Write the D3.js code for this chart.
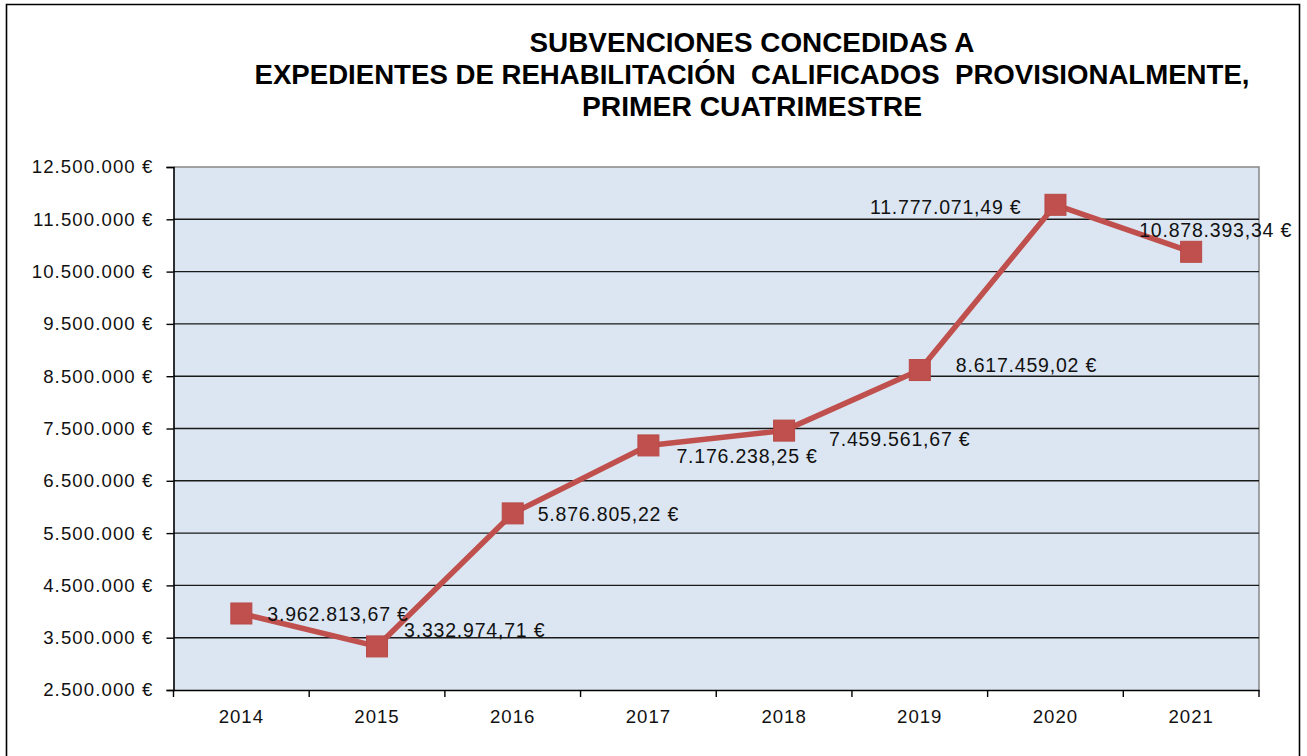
<!DOCTYPE html>
<html><head><meta charset="utf-8">
<script src="https://cdn.jsdelivr.net/npm/d3@7"></script>
<style>
html,body{margin:0;padding:0;background:#fff;}
svg{display:block;font-family:"Liberation Sans",Arial,sans-serif;}
</style></head>
<body><svg id="c" width="1307" height="756"></svg>
<script>
const titleLines = ["SUBVENCIONES CONCEDIDAS A",
  "EXPEDIENTES DE REHABILITACIÓN  CALIFICADOS  PROVISIONALMENTE,",
  "PRIMER CUATRIMESTRE"];
const years = ["2014","2015","2016","2017","2018","2019","2020","2021"];
const values = [3962813.67, 3332974.71, 5876805.22, 7176238.25, 7459561.67, 8617459.02, 11777071.49, 10878393.34];
const yTicks = [2500000,3500000,4500000,5500000,6500000,7500000,8500000,9500000,10500000,11500000,12500000];

// layout of data labels (offset from point, anchor)
const labelLayout = [
  {dx:26, dy:8, a:"start"},{dx:27, dy:-9, a:"start"},{dx:25, dy:7.5, a:"start"},
  {dx:28, dy:18, a:"start"},{dx:45, dy:15, a:"start"},{dx:36, dy:2, a:"start"},
  {dx:-34, dy:9, a:"end"},{dx:-52, dy:-15, a:"start"}];

const fmtNum = v => {
  const [i, d] = v.toFixed(2).split(".");
  return i.replace(/\B(?=(\d{3})+(?!\d))/g, ".") + "," + d + " €";
};
const fmtTick = v => String(v).replace(/\B(?=(\d{3})+(?!\d))/g, ".") + " €";

const svg = d3.select("#c");
const L = 173.5, R = 1259, T = 167, B = 690;

// outer frame
svg.append("path").attr("d", `M6.5,756 V4.5 H1299.5 V756`).attr("fill","none").attr("stroke","#000").attr("stroke-width",1.6);

// title
const title = svg.append("g").attr("font-weight","bold").attr("font-size",27).attr("fill","#000").attr("text-anchor","middle");
const tW = [445, 995, 340];
const tY = [52, 84, 116];
titleLines.forEach((t,i)=>{
  title.append("text").attr("x",752).attr("y",tY[i]).attr("textLength",tW[i]).attr("lengthAdjust","spacingAndGlyphs")
    .style("white-space","pre").text(t);
});

const x = d3.scaleBand().domain(years).range([L, R]);
const y = d3.scaleLinear().domain([2500000, 12500000]).range([B, T]);

// plot background
svg.append("rect").attr("x",L).attr("y",T).attr("width",R-L).attr("height",B-T).attr("fill","#DCE6F2");
// plot border top/right
svg.append("path").attr("d",`M${L},${T} H${R} V${B}`).attr("fill","none").attr("stroke","#868686").attr("stroke-width",1.5);

// gridlines
svg.append("g").selectAll("line").data(yTicks.slice(1, -1)).join("line")
  .attr("x1",L).attr("x2",R).attr("y1",d=>y(d)).attr("y2",d=>y(d))
  .attr("stroke","#1a1a1a").attr("stroke-width",1.4);

// y axis
const yAxis = d3.axisLeft(y).tickValues(yTicks).tickFormat(fmtTick).tickSize(7).tickPadding(13);
const gy = svg.append("g").attr("transform",`translate(${L},0)`).call(yAxis);
gy.select(".domain").attr("stroke","#000").attr("stroke-width",1.6);
gy.selectAll(".tick line").attr("stroke","#000").attr("stroke-width",1.4);
gy.selectAll("text").attr("font-size",18.6).attr("fill","#111").attr("letter-spacing","1.1px")
  .attr("font-family","Liberation Sans, Arial, sans-serif");

// x axis
const xAxis = d3.axisBottom(x).tickSize(0).tickPadding(20);
const gx = svg.append("g").attr("transform",`translate(0,${B})`).call(xAxis);
gx.select(".domain").attr("stroke","#000").attr("stroke-width",1.6);
gx.selectAll("text").attr("font-size",18.6).attr("fill","#111").attr("letter-spacing","1px")
  .attr("font-family","Liberation Sans, Arial, sans-serif");
// tick marks between categories
const bounds = years.map(d=>x(d)).concat([R]);
svg.append("g").selectAll("line").data(bounds).join("line")
  .attr("x1",d=>d).attr("x2",d=>d).attr("y1",B).attr("y2",B+7)
  .attr("stroke","#000").attr("stroke-width",1.4);

// line
const pts = years.map((yr,i)=>({yr, v:values[i], cx:x(yr)+x.bandwidth()/2, cy:y(values[i])}));
svg.append("path").datum(pts)
  .attr("d", d3.line().x(d=>d.cx).y(d=>d.cy))
  .attr("fill","none").attr("stroke","#C0504D").attr("stroke-width",5.5).attr("stroke-linejoin","round");

// markers
const ms = 21;
svg.append("g").selectAll("rect").data(pts).join("rect")
  .attr("x",d=>d.cx-ms/2).attr("y",d=>d.cy-ms/2).attr("width",ms).attr("height",ms)
  .attr("fill","#C0504D").attr("stroke","#B84A47").attr("stroke-width",1);

// data labels
svg.append("g").selectAll("text").data(pts).join("text")
  .attr("x",(d,i)=>d.cx+labelLayout[i].dx).attr("y",(d,i)=>d.cy+labelLayout[i].dy)
  .attr("text-anchor",(d,i)=>labelLayout[i].a)
  .attr("font-size",19.5).attr("letter-spacing","0.8px").attr("fill","#111")
  .text(d=>fmtNum(d.v));
</script></body></html>
